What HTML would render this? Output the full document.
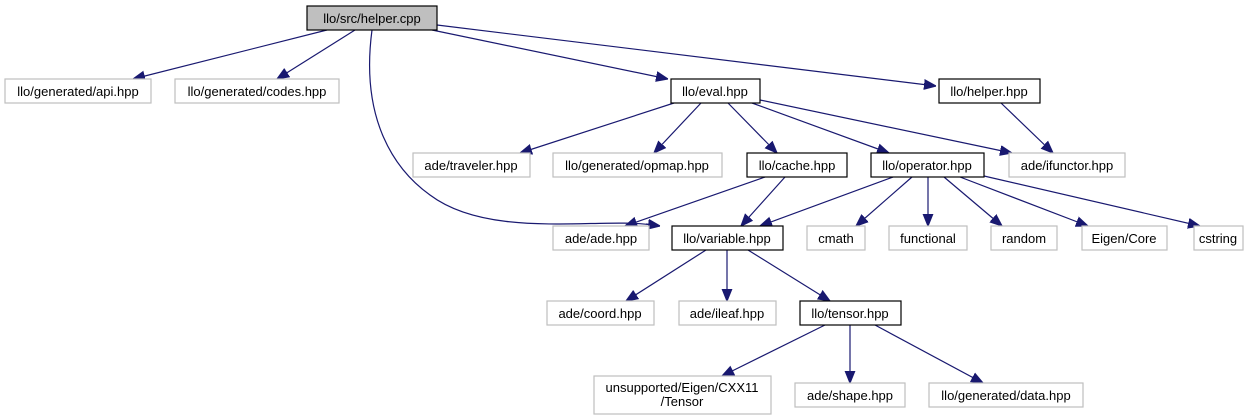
<!DOCTYPE html>
<html><head><meta charset="utf-8"><style>
html,body{margin:0;padding:0;background:#fff}
svg{display:block}
text{font-family:"Liberation Sans",Arial,sans-serif;font-size:13px;fill:#000;text-anchor:middle}
.g{fill:#fff;stroke:#bfbfbf;stroke-width:1.2}
.b{fill:#fff;stroke:#000;stroke-width:1.2}
.e{fill:none;stroke:#191970;stroke-width:1.2}
</style></head><body>
<svg width="1259" height="416" viewBox="0 0 1259 416" xmlns="http://www.w3.org/2000/svg">
<defs><marker id="a" viewBox="0 0 10 10" refX="10" refY="5" markerWidth="12" markerHeight="12" markerUnits="userSpaceOnUse" orient="auto"><path d="M0,1 L10,5 L0,9 z" fill="#191970" stroke="#191970"/></marker></defs>
<g class="edges">
<path class="e" marker-end="url(#a)" d="M327,30 L133,79"/>
<path class="e" marker-end="url(#a)" d="M355,30 L277,79"/>
<path class="e" d="M372,30 C360,120 395,170 430,195 C490,240 600,217 652,225"/>
<path class="e" marker-end="url(#a)" d="M646,224 L660,226"/>
<path class="e" marker-end="url(#a)" d="M432,30 L668,79"/>
<path class="e" marker-end="url(#a)" d="M437,25 L936,86"/>
<path class="e" marker-end="url(#a)" d="M674,103 L520,153"/>
<path class="e" marker-end="url(#a)" d="M701,103 L654,153"/>
<path class="e" marker-end="url(#a)" d="M728,103 L777,153"/>
<path class="e" marker-end="url(#a)" d="M752,103 L889,153"/>
<path class="e" marker-end="url(#a)" d="M760,100 L1012,153"/>
<path class="e" marker-end="url(#a)" d="M1001,103 L1053,153"/>
<path class="e" marker-end="url(#a)" d="M765,177 L625,226"/>
<path class="e" marker-end="url(#a)" d="M785,177 L741,226"/>
<path class="e" marker-end="url(#a)" d="M893,177 L760,226"/>
<path class="e" marker-end="url(#a)" d="M912,177 L856,226"/>
<path class="e" marker-end="url(#a)" d="M928,177 L928,226"/>
<path class="e" marker-end="url(#a)" d="M944,177 L1002,226"/>
<path class="e" marker-end="url(#a)" d="M960,177 L1088,226"/>
<path class="e" marker-end="url(#a)" d="M984,176 L1200,226"/>
<path class="e" marker-end="url(#a)" d="M706,250 L626,301"/>
<path class="e" marker-end="url(#a)" d="M727,250 L727,301"/>
<path class="e" marker-end="url(#a)" d="M748,250 L830,301"/>
<path class="e" marker-end="url(#a)" d="M825,325 L722,376"/>
<path class="e" marker-end="url(#a)" d="M850,325 L850,383"/>
<path class="e" marker-end="url(#a)" d="M875,325 L983,383"/>
</g>
<rect x="307" y="6" width="130" height="24" fill="#bfbfbf" stroke="#000" stroke-width="1.2"/><text x="372" y="23">llo/src/helper.cpp</text>
<rect class="g" x="5" y="79" width="146" height="24"/><text x="78" y="96">llo/generated/api.hpp</text>
<rect class="g" x="175" y="79" width="164" height="24"/><text x="257" y="96">llo/generated/codes.hpp</text>
<rect class="b" x="671" y="79" width="89" height="24"/><text x="715" y="96">llo/eval.hpp</text>
<rect class="b" x="939" y="79" width="101" height="24"/><text x="989" y="96">llo/helper.hpp</text>
<rect class="g" x="413" y="153" width="117" height="24"/><text x="471" y="170">ade/traveler.hpp</text>
<rect class="g" x="553" y="153" width="169" height="24"/><text x="637" y="170">llo/generated/opmap.hpp</text>
<rect class="b" x="747" y="153" width="100" height="24"/><text x="797" y="170">llo/cache.hpp</text>
<rect class="b" x="871" y="153" width="113" height="24"/><text x="927" y="170">llo/operator.hpp</text>
<rect class="g" x="1009" y="153" width="116" height="24"/><text x="1067" y="170">ade/ifunctor.hpp</text>
<rect class="g" x="553" y="226" width="96" height="24"/><text x="601" y="243">ade/ade.hpp</text>
<rect class="b" x="672" y="226" width="111" height="24"/><text x="727" y="243">llo/variable.hpp</text>
<rect class="g" x="807" y="226" width="58" height="24"/><text x="836" y="243">cmath</text>
<rect class="g" x="889" y="226" width="78" height="24"/><text x="928" y="243">functional</text>
<rect class="g" x="991" y="226" width="66" height="24"/><text x="1024" y="243">random</text>
<rect class="g" x="1082" y="226" width="85" height="24"/><text x="1124" y="243">Eigen/Core</text>
<rect class="g" x="1194" y="226" width="49" height="24"/><text x="1218" y="243">cstring</text>
<rect class="g" x="547" y="301" width="107" height="24"/><text x="600" y="318">ade/coord.hpp</text>
<rect class="g" x="679" y="301" width="97" height="24"/><text x="727" y="318">ade/ileaf.hpp</text>
<rect class="b" x="800" y="301" width="101" height="24"/><text x="850" y="318">llo/tensor.hpp</text>
<rect class="g" x="594" y="376" width="177" height="38"/><text x="682" y="392">unsupported/Eigen/CXX11</text><text x="682" y="406">/Tensor</text>
<rect class="g" x="795" y="383" width="110" height="24"/><text x="850" y="400">ade/shape.hpp</text>
<rect class="g" x="929" y="383" width="154" height="24"/><text x="1006" y="400">llo/generated/data.hpp</text>
</svg>
</body></html>
